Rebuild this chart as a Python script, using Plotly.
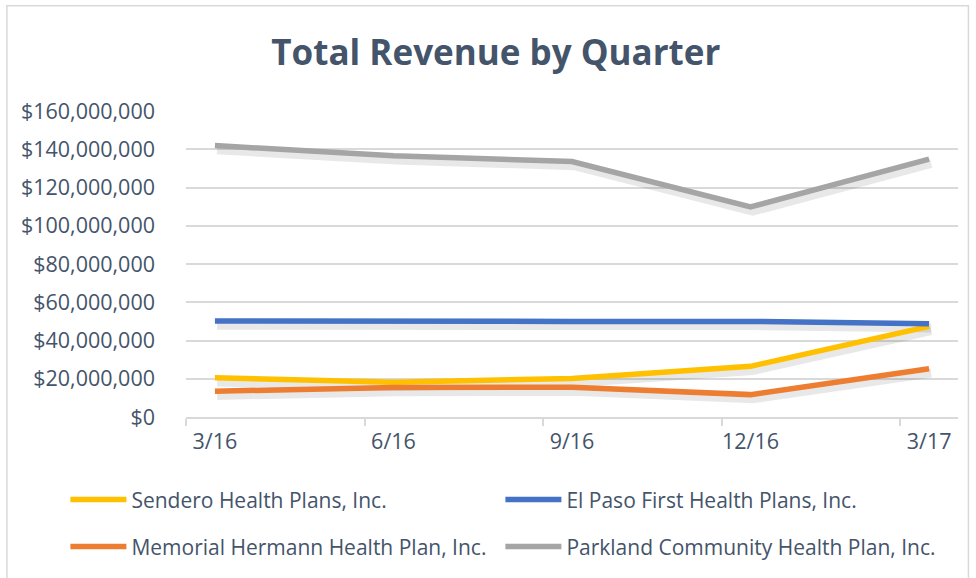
import plotly.graph_objects as go

quarters = ["3/16", "6/16", "9/16", "12/16", "3/17"]
sendero = [20.5e6, 18.2e6, 20.1e6, 26.5e6, 47.4e6]
el_paso = [50.2e6, 50.4e6, 50.0e6, 50.0e6, 48.7e6]
memorial = [13.5e6, 15.4e6, 15.6e6, 11.7e6, 25.2e6]
parkland = [141.9e6, 136.6e6, 133.6e6, 109.8e6, 134.8e6]

names = ["Sendero Health Plans, Inc.", "El Paso First Health Plans, Inc.",
         "Memorial Hermann Health Plan, Inc.", "Parkland Community Health Plan, Inc."]
values = [sendero, el_paso, memorial, parkland]
colors = ["#FFC000", "#4472C4", "#ED7D31", "#A5A5A5"]
legend_ids = ["legend", "legend2", "legend3", "legend4"]
# legend slot positions (container fractions): two columns, two rows
legend_x = [0.067, 0.5127, 0.067, 0.5127]
legend_y = [0.135, 0.135, 0.054, 0.054]

xpos = list(range(len(quarters)))
TEXT = "#44546A"
FONT = "Open Sans"

fig = go.Figure()
# soft drop shadows (derived from the same data, offset a few pixels)
for vals in values:
    fig.add_trace(go.Scatter(
        x=[x + 0.012 for x in xpos], y=[v - 2.2e6 for v in vals], mode="lines",
        line=dict(color="rgba(0,0,0,0.09)", width=9), showlegend=False,
        hoverinfo="skip"))
for name, vals, color, lg in zip(names, values, colors, legend_ids):
    fig.add_trace(go.Scatter(
        x=xpos, y=vals, mode="lines", name=name, legend=lg,
        line=dict(color=color, width=5.5)))

legends = {}
for lg, lx, ly in zip(legend_ids, legend_x, legend_y):
    legends[lg] = dict(orientation="h", xref="container", yref="container",
                       x=lx, y=ly, xanchor="left", yanchor="middle",
                       itemwidth=56,
                       font=dict(family=FONT, size=21, color=TEXT),
                       bgcolor="rgba(0,0,0,0)")

fig.update_layout(
    width=976, height=578,
    margin=dict(l=186, r=18, t=111, b=160.5),
    paper_bgcolor="white", plot_bgcolor="white",
    font=dict(family=FONT, color=TEXT),
    title=dict(text="<b>Total Revenue by Quarter</b>", x=0.508, xanchor="center",
               y=0.908, yanchor="middle", yref="container",
               font=dict(family=FONT, size=35, color=TEXT)),
    xaxis=dict(range=[-0.162, 4.162], tickvals=xpos, ticktext=quarters,
               ticks="outside", ticklen=4, tickcolor="rgba(0,0,0,0)",
               showgrid=False, zeroline=False,
               showline=True, linecolor="#D9D9D9", linewidth=1.5,
               tickfont=dict(family=FONT, size=21.5, color=TEXT),
               minor=dict(tickmode="array", tickvals=[x - 0.162 for x in xpos],
                          ticks="outside", ticklen=7, tickcolor="#D9D9D9",
                          tickwidth=1.5, showgrid=False)),
    yaxis=dict(range=[0, 160e6], dtick=20e6, tickprefix="$", tickformat=",d",
               showgrid=True, gridcolor="#D9D9D9", gridwidth=1.5,
               zeroline=False, showline=False, ticks="",
               ticklabelstandoff=30,
               tickfont=dict(family=FONT, size=21.5, color=TEXT)),
    showlegend=True,
    **legends,
)

fig.add_shape(type="rect", xref="paper", yref="paper",
              x0=-0.232, x1=1.0135, y0=-0.53, y1=1.344,
              line=dict(color="#D9D9D9", width=1.5), fillcolor="rgba(0,0,0,0)",
              layer="below")

fig.write_html("out.html", config={"displayModeBar": False},
               post_script="document.body.style.margin='0';")
